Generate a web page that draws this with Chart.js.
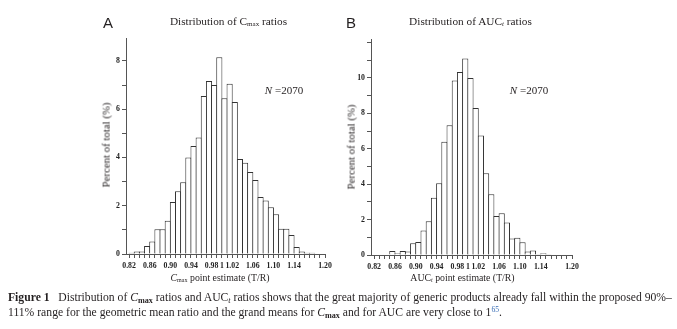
<!DOCTYPE html>
<html><head><meta charset="utf-8">
<script src="https://cdn.jsdelivr.net/npm/chart.js@4"></script>
<style>
html,body{margin:0;padding:0;background:#fff;}
body{width:677px;height:329px;position:relative;overflow:hidden;font-family:"Liberation Serif","Times New Roman",serif;color:#231f20;}
canvas{position:absolute;top:0;}
.t{position:absolute;white-space:nowrap;line-height:1;}
.panel{font-family:"Liberation Sans",Arial,sans-serif;font-size:15px;}
.title{font-size:11.3px;transform:translateX(-50%);}
.n{font-size:11px;transform:translateX(-50%);}
.xt{font-size:9.8px;transform:translateX(-50%);}
.yt{font-size:10.8px;transform:translate(-50%,-50%) rotate(-90deg);}
.sm{font-size:0.62em;vertical-align:-0.12em;}
.cap{position:absolute;left:8px;font-size:10.2px;line-height:1;white-space:nowrap;}
.cap sub{font-size:0.7em;vertical-align:-0.3em;line-height:0;}
.cap sup{font-size:0.65em;vertical-align:0.5em;line-height:0;color:#3b6fb6;}
</style></head>
<body>
<canvas id="c1" width="340" height="280" style="left:0"></canvas>
<canvas id="c2" width="337" height="280" style="left:340px"></canvas>

<div class="t panel" style="left:103px;top:15px">A</div>
<div class="t panel" style="left:346px;top:15px">B</div>
<div class="t title" style="left:228.5px;top:16px">Distribution of C<span class="sm">max</span> ratios</div>
<div class="t title" style="left:470.5px;top:16px">Distribution of AUC<span class="sm"><i>t</i></span> ratios</div>
<div class="t n" style="left:284px;top:85px"><i>N</i> =2070</div>
<div class="t n" style="left:529px;top:85px"><i>N</i> =2070</div>
<div class="t yt" style="left:106px;top:145px">Percent of total (%)</div>
<div class="t yt" style="left:351px;top:147px">Percent of total (%)</div>
<div class="t xt" style="left:220px;top:273px"><i>C</i><span class="sm">max</span> point estimate (T/R)</div>
<div class="t xt" style="left:462.5px;top:273px">AUC<span class="sm"><i>t</i></span> point estimate (T/R)</div>

<div class="cap" id="cap1" style="top:292px"><b>Figure 1</b>&nbsp;&nbsp;&nbsp;Distribution of <i>C</i><sub><b>max</b></sub> ratios and AUC<sub><i>t</i></sub> ratios shows that the great majority of generic products already fall within the proposed 90%–</div>
<div class="cap" id="cap2" style="top:306.5px">111% range for the geometric mean ratio and the grand means for <i>C</i><sub><b>max</b></sub> and for AUC are very close to 1<sup>65</sup>.</div>

<script>
// ---- data (percent of total per 0.01-wide bin; bins given by lower edge) ----
const cmaxBins = [0.82,0.83,0.84,0.85,0.86,0.87,0.88,0.89,0.90,0.91,0.92,0.93,0.94,0.95,0.96,0.97,0.98,0.99,
                  1.00,1.01,1.02,1.03,1.04,1.05,1.06,1.07,1.08,1.09,1.10,1.11,1.12,1.13,1.14,1.15,1.16,1.17];
const cmaxPercent = [0.05,0.10,0.10,0.33,0.52,1.03,1.03,1.38,2.15,2.60,2.97,4.00,4.47,4.83,6.55,7.17,7.00,8.15,
                     6.45,7.05,6.30,3.94,3.78,3.40,3.07,2.36,2.22,1.94,1.65,1.05,1.05,0.79,0.29,0.10,0.05,0.05];
const aucBins = [0.85,0.86,0.87,0.88,0.89,0.90,0.91,0.92,0.93,0.94,0.95,0.96,0.97,0.98,0.99,
                 1.00,1.01,1.02,1.03,1.04,1.05,1.06,1.07,1.08,1.09,1.10,1.11,1.12,1.13,1.14,1.15];
const aucPercent = [0.23,0.10,0.23,0.20,0.66,0.73,1.38,1.90,3.24,4.05,6.40,7.33,9.85,10.33,11.10,
                    10.00,8.30,6.75,4.62,3.43,2.20,2.36,1.84,0.93,0.98,0.72,0.20,0.25,0.04,0.10,0.04];
const binWidth = 0.01;
const xTickValues = [0.82,0.86,0.90,0.94,0.98,1.00,1.02,1.06,1.10,1.14,1.20];
const xTickLabels = ['0.82','0.86','0.90','0.94','0.98','1','1.02','1.06','1.10','1.14','1.20'];
const cmaxYLabels = [0,2,4,6,8];
const aucYLabels = [0,2,4,6,8,10];

const AX = '#555', INK = '#222';
const tickFont = {family:'Liberation Serif', size:7.8, weight:'bold'};

function makeChart(id, bins, values, yMax, yLabels, pad) {
  const data = bins.map((b, i) => ({x: b + binWidth / 2, y: values[i]}));
  const xMarks = []; for (let k = 82; k <= 120; k++) xMarks.push(k / 100);
  const yMarks = []; for (let k = 0; k <= Math.floor(yMax); k++) yMarks.push(k);
  return new Chart(document.getElementById(id), {
    type: 'bar',
    data: { datasets: [{
      data,
      backgroundColor: '#ffffff',
      borderColor: '#333333',
      borderWidth: 1,
      borderSkipped: 'start',
      barPercentage: 1.193,
      categoryPercentage: 1
    }]},
    options: {
      responsive: false, animation: false, devicePixelRatio: 1,
      layout: { padding: pad },
      plugins: { legend: {display:false}, tooltip: {enabled:false}, title:{display:false} },
      scales: {
        x: {
          type: 'linear', min: 0.814, max: 1.20, offset: false,
          grid: {display:true, drawOnChartArea:false, drawTicks:true, tickLength:4, color:AX, lineWidth:1, offset:false},
          border: {display:true, color:AX, width:1},
          ticks: {autoSkip:false, maxRotation:0, minRotation:0, padding:3, font:tickFont, color:INK,
            callback: (v) => { const i = xTickValues.findIndex(t => Math.abs(t - v) < 1e-6); return i >= 0 ? xTickLabels[i] : ''; }},
          afterBuildTicks: s => { s.ticks = xMarks.map(v => ({value: v})); },
          afterFit: s => { s.height = 20; }
        },
        y: {
          type: 'linear', min: 0, max: yMax,
          grid: {display:true, drawOnChartArea:false, drawTicks:true, tickLength:4, color:AX, lineWidth:1},
          border: {display:true, color:AX, width:1},
          ticks: {autoSkip:false, padding:2, font:tickFont, color:INK,
            callback: (v) => yLabels.includes(v) ? String(v) : ''},
          afterBuildTicks: s => { s.ticks = yMarks.map(v => ({value: v})); },
          afterFit: s => { s.width = 30; }
        }
      }
    }
  });
}

makeChart('c1', cmaxBins, cmaxPercent, 8.95, cmaxYLabels, {left:96, right:15, top:38, bottom:6});
makeChart('c2', aucBins, aucPercent, 12.2, aucYLabels, {left:1, right:105, top:39, bottom:5});

// size caption so the first line spans the full text width (664px), as in the source
(function(){
  const c1 = document.getElementById('cap1'), c2 = document.getElementById('cap2');
  const w = c1.getBoundingClientRect().width;
  const fs = 10.2 * 664 / w;
  c1.style.fontSize = fs + 'px';
  c2.style.fontSize = fs + 'px';
})();
</script>
</body></html>
